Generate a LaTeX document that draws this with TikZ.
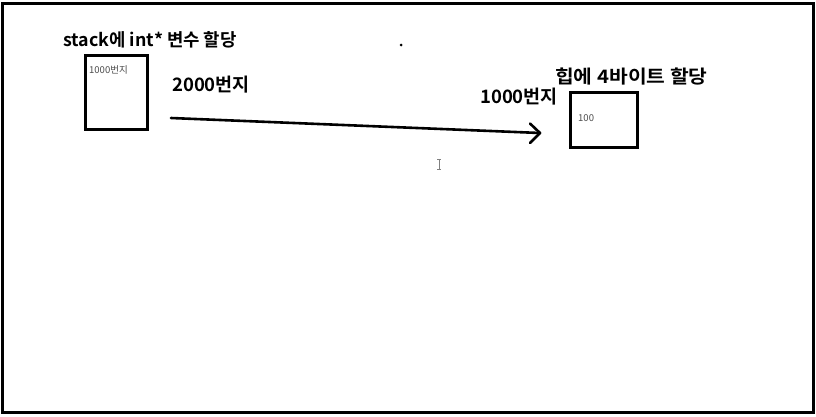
\documentclass[tikz,border=0pt]{standalone}
\usepackage{fontspec}
\usepackage{graphicx}
\newfontfamily\kr{Noto Sans CJK KR}
\newfontfamily\krb{Noto Sans CJK KR Bold}
\begin{document}
\begin{tikzpicture}[x=1pt,y=-1pt,
  big/.style={font=\krb\fontsize{18.5}{18.5}\selectfont, inner sep=0pt, anchor=west},
  small/.style={font=\kr\fontsize{9.5}{9.5}\selectfont, text=black!70, inner sep=0pt, anchor=west},
  membox/.style={draw, line width=3pt, inner sep=0pt},
  conn/.style={line width=2.6pt, line cap=round}]
\useasboundingbox (0,0) rectangle (816,416);
\fill[white] (0,0) rectangle (816,416);
\draw[line width=3pt] (2.5,3.5) rectangle (813,412);
% left box
\node[membox, minimum width=62pt, minimum height=74pt] (stk) at (116.5,92.5) {};
\node[big, font=\krb\fontsize{17.8}{17.8}\selectfont] (t1) at (63,40) {stack에 int* 변수 할당};
\node[small] (a1) at (89,70) {1000번지};
\node[big] (t2) at (172,85) {2000번지};
% right box
\node[membox, minimum width=67pt, minimum height=55pt] (heap) at (604,120) {};
\node[big] (t3) at (555,77) {\scalebox{1.1}[1]{힙에 4바이트 할당}};
\node[big] (t4) at (480,97) {1000번지};
\node[small] (v) at (578,118) {100};
% arrow
\coordinate (s) at (171,118);
\coordinate (e) at (540,133);
\draw[conn] (s) -- (e);
\draw[conn, line join=round] (530,123.5) -- (e) -- (530,143);
% dot
\fill (401,45) circle (1.5pt);
% cursor I-beam
\draw[black!50, line width=0.7pt] (437,159) -- (441,159) (439,159) -- (439,169) (437,169) -- (441,169);
\end{tikzpicture}
\end{document}
